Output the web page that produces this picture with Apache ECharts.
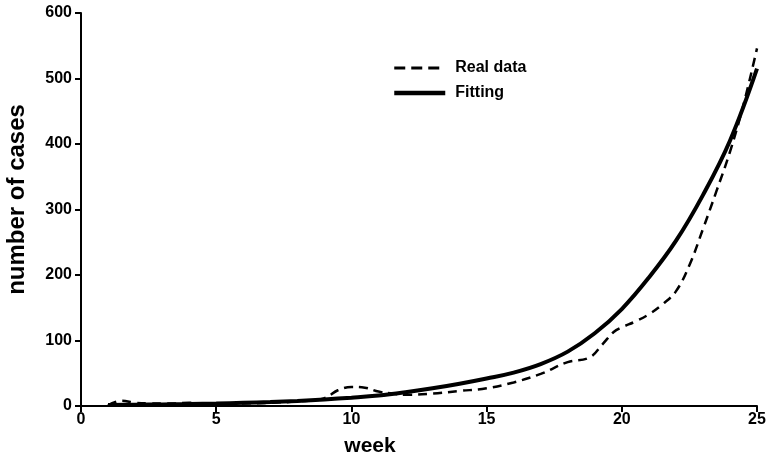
<!DOCTYPE html>
<html>
<head>
<meta charset="utf-8">
<script src="https://cdn.jsdelivr.net/npm/echarts@6/dist/echarts.min.js"></script>
<style>
html,body{margin:0;padding:0;background:#fff;}
#chart{width:768px;height:460px;}
</style>
</head>
<body>
<div id="chart"></div>
<script>
// Real data (week, cases)
const realWeeks = [1, 1.5, 2, 2.5, 3, 3.5, 4, 4.5, 5, 6, 7, 8, 9, 9.5, 10, 10.5, 11, 11.5, 12, 13, 14, 15, 16, 17, 18, 18.8, 19.3, 19.7, 20, 20.5, 21, 21.5, 22, 22.5, 23, 23.5, 24, 24.5, 25];
const realCases = [1, 8, 5, 4, 4, 4, 5, 3, 4, 4, 5, 7, 12, 24, 29, 28, 22, 19, 17, 19, 23, 27, 36, 49, 67, 74, 95, 113, 120, 129, 140, 155, 175, 215, 270, 328, 388, 460, 546];
// Fitting curve (week, cases)
const fitWeeks = [1, 2, 3, 4, 5, 6, 7, 8, 9, 10, 11, 12, 13, 14, 15, 16, 17, 18, 19, 20, 21, 22, 23, 24, 25];
const fitCases = [1.5, 1.9, 2.4, 3, 3.8, 4.8, 6, 7.8, 10, 12.7, 16, 21, 27, 34, 42, 51, 64, 83, 111, 148, 196, 252, 322, 405, 515];
const xTicks = [0, 5, 10, 15, 20, 25];
const yTicks = [0, 100, 200, 300, 400, 500, 600];
const seriesNames = ['Real data', 'Fitting'];

const zip = (a, b) => a.map((v, i) => [v, b[i]]);
const font = 'Liberation Sans, Arial, sans-serif';

const chart = echarts.init(document.getElementById('chart'), null, {renderer: 'canvas'});
chart.setOption({
  animation: false,
  backgroundColor: '#fff',
  grid: {left: 81, right: 11, top: 13, bottom: 54, outerBoundsMode: 'none', containLabel: false},
  legend: {
    orient: 'vertical',
    left: 387,
    top: 55,
    itemWidth: 51,
    itemHeight: 14,
    itemGap: 9,
    itemStyle: {color: 'transparent', borderWidth: 0, opacity: 0},
    textStyle: {fontFamily: font, fontWeight: 'bold', fontSize: 16, color: '#000', padding: [0, 0, 0, 5]},
    data: [
      {name: seriesNames[0], lineStyle: {color: '#000', width: 3, type: [11, 6]}},
      {name: seriesNames[1], lineStyle: {color: '#000', width: 4.5, type: 'solid'}}
    ]
  },
  xAxis: {
    type: 'value',
    min: xTicks[0], max: xTicks[xTicks.length - 1], interval: 5,
    name: 'week', nameLocation: 'middle', nameGap: 30,
    nameTextStyle: {fontFamily: font, fontWeight: 'bold', fontSize: 21, color: '#000', padding: [0, 98, 0, 0]},
    axisLine: {lineStyle: {color: '#000', width: 2}},
    axisTick: {show: true, length: 6, lineStyle: {color: '#000', width: 2}},
    axisLabel: {fontFamily: font, fontWeight: 'bold', fontSize: 16, color: '#000', margin: 6},
    splitLine: {show: false}
  },
  yAxis: {
    type: 'value',
    min: yTicks[0], max: yTicks[yTicks.length - 1], interval: 100,
    name: 'number of cases', nameLocation: 'middle', nameGap: 52, nameRotate: 90,
    nameTextStyle: {fontFamily: font, fontWeight: 'bold', fontSize: 24, color: '#000', padding: [0, 0, 0, 20]},
    axisLine: {show: true, lineStyle: {color: '#000', width: 2}},
    axisTick: {show: true, length: 6, lineStyle: {color: '#000', width: 2}},
    axisLabel: {fontFamily: font, fontWeight: 'bold', fontSize: 16, color: '#000', margin: 9},
    splitLine: {show: false}
  },
  series: [
    {
      name: seriesNames[0], type: 'line', smooth: 0.4, symbol: 'none',
      data: zip(realWeeks, realCases),
      lineStyle: {color: '#000', width: 2.5, type: [9, 6]},
      itemStyle: {color: '#000'},
      z: 2
    },
    {
      name: seriesNames[1], type: 'line', smooth: 0.4, symbol: 'none',
      data: zip(fitWeeks, fitCases),
      lineStyle: {color: '#000', width: 4, type: 'solid'},
      itemStyle: {color: '#000'},
      z: 3
    }
  ]
});
</script>
</body>
</html>
